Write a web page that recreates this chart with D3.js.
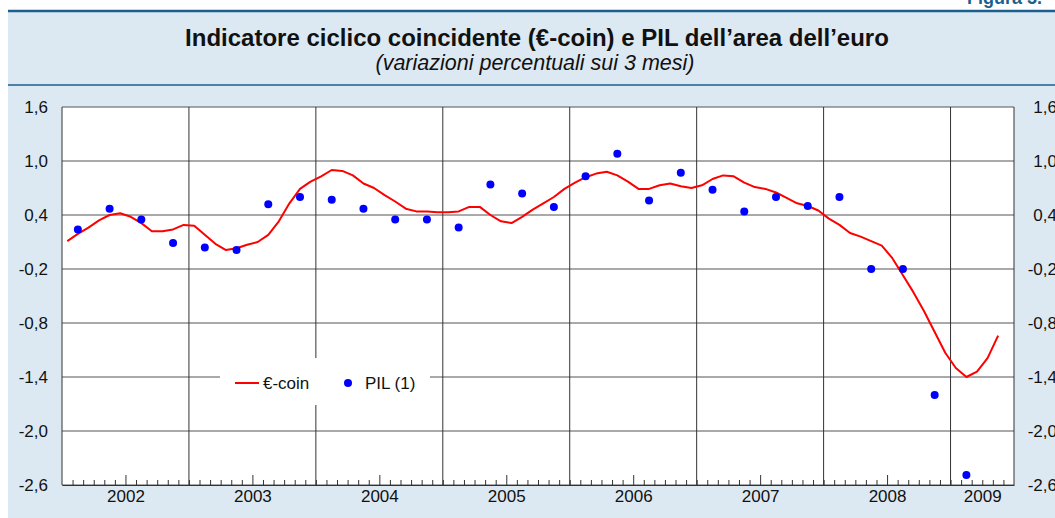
<!DOCTYPE html>
<html>
<head>
<meta charset="utf-8">
<script src="https://cdn.jsdelivr.net/npm/d3@7"></script>
<style>
  body { margin: 0; background: #fff; }
  svg { display: block; font-family: "Liberation Sans", Arial, Helvetica, sans-serif; }
</style>
</head>
<body>
<svg id="chart" width="1055" height="518"></svg>
<script>
// monthly €-coin, Jan 2002 .. May 2009
const ecoin = [
  0.11, 0.19, 0.26, 0.34, 0.40, 0.42, 0.38, 0.31, 0.22, 0.22, 0.24, 0.29,
  0.28, 0.18, 0.08, 0.01, 0.03, 0.07, 0.10, 0.18, 0.33, 0.53, 0.69, 0.77,
  0.83, 0.90, 0.89, 0.84, 0.75, 0.70, 0.62, 0.55, 0.47, 0.44, 0.44, 0.43,
  0.43, 0.44, 0.49, 0.49, 0.40, 0.33, 0.31, 0.38, 0.46, 0.53, 0.60, 0.69,
  0.76, 0.82, 0.86, 0.88, 0.84, 0.77, 0.69, 0.69, 0.73, 0.75, 0.72, 0.70,
  0.73, 0.80, 0.84, 0.83, 0.76, 0.71, 0.69, 0.65, 0.59, 0.53, 0.50, 0.45,
  0.36, 0.29, 0.20, 0.16, 0.11, 0.06, -0.08, -0.27, -0.46, -0.67, -0.90, -1.13,
  -1.30, -1.40, -1.34, -1.19, -0.94
];
// quarterly GDP, Q1 2002 .. Q1 2009
const pil = [
  0.24, 0.47, 0.35, 0.09,
  0.04, 0.01, 0.52, 0.60,
  0.57, 0.47, 0.35, 0.35,
  0.26, 0.74, 0.64, 0.49,
  0.83, 1.08, 0.56, 0.87,
  0.68, 0.44, 0.60, 0.50,
  0.60, -0.20, -0.20, -1.60,
  -2.49
];
const years = [2002, 2003, 2004, 2005, 2006, 2007, 2008, 2009];
const yTicks = [-2.6, -2.0, -1.4, -0.8, -0.2, 0.4, 1.0, 1.6];
const nMonths = 90; // Jan 2002 .. Jun 2009

const svg = d3.select("#chart");
const pLeft = 62, pRight = 1014, pTop = 107, pBottom = 485;
const labelFont = "Liberation Sans, Arial, sans-serif";

const it = d3.formatLocale({decimal: ",", thousands: ".", grouping: [3], currency: ["", "€"], minus: "-"});
const fmt = it.format(".1f");

// panel background and rules
svg.append("rect").attr("x", 8).attr("y", 11).attr("width", 1047).attr("height", 507).attr("fill", "#dde9f2");
svg.append("line").attr("x1", 8).attr("x2", 1055).attr("y1", 11).attr("y2", 11)
  .attr("stroke", "#1b5f8e").attr("stroke-width", 2.5);
svg.append("line").attr("x1", 8).attr("x2", 1055).attr("y1", 85).attr("y2", 85)
  .attr("stroke", "#1b5f8e").attr("stroke-width", 1.5);

svg.append("text").attr("x", 967).attr("y", 4).attr("font-size", 18).attr("font-weight", "bold")
  .attr("fill", "#1b5f8e").text("Figura 5.");
svg.append("text").attr("x", 537).attr("y", 46).attr("text-anchor", "middle")
  .attr("font-size", 24).attr("font-weight", "bold").attr("fill", "#111")
  .text("Indicatore ciclico coincidente (€-coin) e PIL dell’area dell’euro");
svg.append("text").attr("x", 535).attr("y", 70).attr("text-anchor", "middle")
  .attr("font-size", 21.5).attr("font-style", "italic").attr("fill", "#111")
  .text("(variazioni percentuali sui 3 mesi)");

const x = d3.scaleLinear().domain([0, nMonths]).range([pLeft, pRight]);
const y = d3.scaleLinear().domain([-2.6, 1.6]).range([pBottom, pTop]);

svg.append("rect").attr("x", pLeft).attr("y", pTop).attr("width", pRight - pLeft).attr("height", pBottom - pTop)
  .attr("fill", "#fff");

// grid
svg.append("g").selectAll("line").data(yTicks).enter().append("line")
  .attr("x1", pLeft).attr("x2", pRight).attr("y1", d => y(d)).attr("y2", d => y(d))
  .attr("stroke", "#555").attr("stroke-width", 1);
svg.append("g").selectAll("line").data(d3.range(0, nMonths, 12)).enter().append("line")
  .attr("x1", d => x(d)).attr("x2", d => x(d)).attr("y1", pTop).attr("y2", pBottom)
  .attr("stroke", "#333").attr("stroke-width", 1);
svg.append("line").attr("x1", pRight).attr("x2", pRight).attr("y1", pTop).attr("y2", pBottom)
  .attr("stroke", "#333");

// y axes
const yl = svg.append("g").attr("transform", "translate(" + pLeft + ",0)")
  .call(d3.axisLeft(y).tickValues(yTicks).tickFormat(fmt).tickSize(0).tickPadding(14));
const yr = svg.append("g").attr("transform", "translate(" + pRight + ",0)")
  .call(d3.axisRight(y).tickValues(yTicks).tickFormat(fmt).tickSize(0).tickPadding(43));
yr.selectAll("text").attr("text-anchor", "end");
[yl, yr].forEach(g => {
  g.select(".domain").remove();
  g.selectAll("text").attr("font-size", 17).attr("fill", "#111").attr("font-family", labelFont);
});

// x axis: monthly ticks inward, taller at mid-year
const xa = svg.append("g").attr("transform", "translate(0," + pBottom + ")")
  .call(d3.axisBottom(x).tickValues(d3.range(1, nMonths)).tickFormat("").tickSizeOuter(0).tickSizeInner(-5));
xa.select(".domain").attr("stroke", "#333");
xa.selectAll(".tick line").attr("stroke", "#333")
  .attr("y2", d => d % 12 === 6 ? -10 : -5);

const yearMid = years.map((yv, i) => Math.min(i * 12 + 6, (i * 12 + nMonths) / 2));
const xl = svg.append("g").attr("transform", "translate(0," + pBottom + ")")
  .call(d3.axisBottom(x).tickValues(yearMid).tickFormat((d, i) => years[i]).tickSize(0).tickPadding(5));
xl.select(".domain").remove();
xl.selectAll("text").attr("font-size", 17).attr("fill", "#111").attr("font-family", labelFont);

// legend box
const lg = svg.append("g");
lg.append("rect").attr("x", 220).attr("y", 358).attr("width", 210).attr("height", 47).attr("fill", "#fff");
lg.append("line").attr("x1", 235).attr("x2", 259).attr("y1", 383).attr("y2", 383)
  .attr("stroke", "#ff0000").attr("stroke-width", 2);
lg.append("text").attr("x", 263).attr("y", 389).attr("font-size", 17).attr("fill", "#111").text("€-coin");
lg.append("circle").attr("cx", 348).attr("cy", 383).attr("r", 4).attr("fill", "#0000ff");
lg.append("text").attr("x", 365).attr("y", 389).attr("font-size", 17).attr("fill", "#111").text("PIL (1)");

// series
const line = d3.line().x((d, i) => x(i + 0.5)).y(d => y(d));
svg.append("path").datum(ecoin).attr("d", line)
  .attr("fill", "none").attr("stroke", "#ff0000").attr("stroke-width", 2).attr("stroke-linejoin", "round");

svg.append("g").selectAll("circle").data(pil).enter().append("circle")
  .attr("cx", (d, i) => x(i * 3 + 1.5)).attr("cy", d => y(d)).attr("r", 4).attr("fill", "#0000ff");
</script>
</body>
</html>
